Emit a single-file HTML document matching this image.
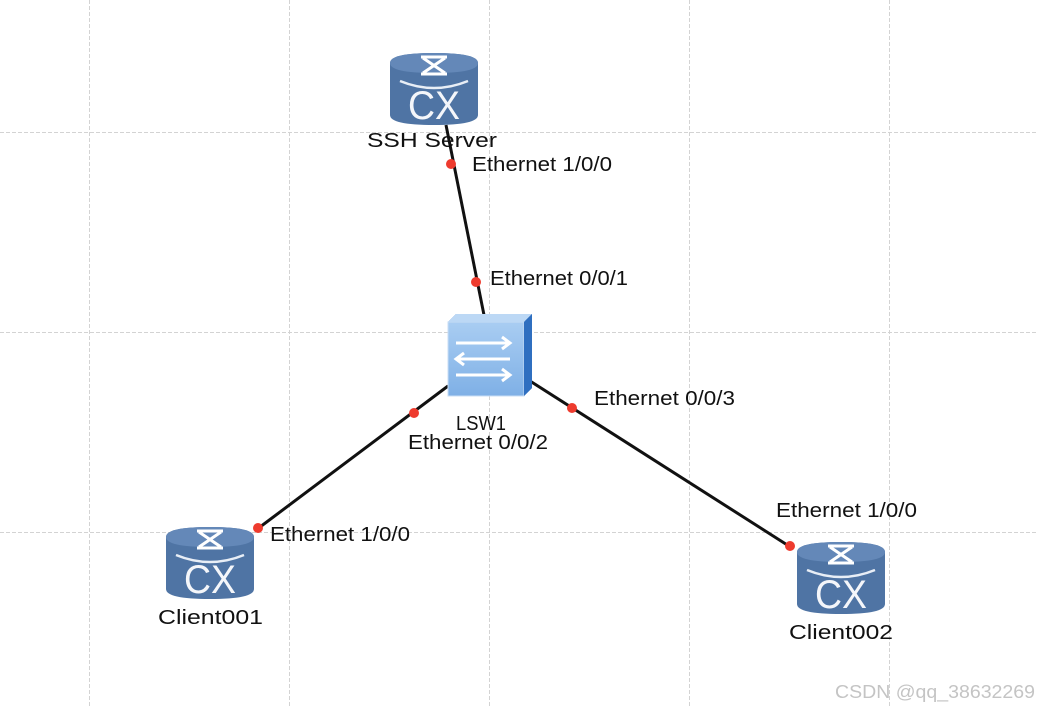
<!DOCTYPE html>
<html><head><meta charset="utf-8"><style>
html,body{margin:0;padding:0;background:#fff;}
svg{display:block;font-family:"Liberation Sans",Arial,sans-serif;}
</style></head><body>
<svg width="1038" height="708" viewBox="0 0 1038 708" xmlns="http://www.w3.org/2000/svg">
<defs>
<g id="rt">
  <path d="M0,10 Q0,0 44,0 Q88,0 88,10 L88,62 Q88,72 44,72 Q0,72 0,62 Z" fill="#4f74a4"/>
  <path d="M0,10 Q0,0 44,0 Q88,0 88,10 Q88,20 44,20 Q0,20 0,10 Z" fill="#6488b8"/>
  <path d="M10,28 Q44,42 78,28" stroke="#e8eef6" stroke-width="2.5" fill="none"/>
  <path d="M31,4 L57,4 M31,21 L57,21 M33,5 L55,20 M55,5 L33,20" stroke="#fff" stroke-width="3" fill="none"/>
  <text x="18" y="66" textLength="52" lengthAdjust="spacingAndGlyphs" font-size="40" fill="#f4f6fa">CX</text>
</g>
<linearGradient id="sw" x1="0" y1="0" x2="0" y2="1">
  <stop offset="0" stop-color="#a9cdf2"/><stop offset="1" stop-color="#7fb0e6"/>
</linearGradient>
</defs>
<g stroke="#d3d3d3" stroke-width="1" stroke-dasharray="4,2">
  <line x1="89.5" y1="0" x2="89.5" y2="708"/>
  <line x1="289.5" y1="0" x2="289.5" y2="708"/>
  <line x1="489.5" y1="0" x2="489.5" y2="708"/>
  <line x1="689.5" y1="0" x2="689.5" y2="708"/>
  <line x1="889.5" y1="0" x2="889.5" y2="708"/>
  <line x1="0" y1="132.5" x2="1038" y2="132.5"/>
  <line x1="0" y1="332.5" x2="1038" y2="332.5"/>
  <line x1="0" y1="532.5" x2="1038" y2="532.5"/>
</g>
<g stroke="#111" stroke-width="3">
  <line x1="446" y1="125" x2="485" y2="320"/>
  <line x1="448" y1="386" x2="256" y2="530"/>
  <line x1="530" y1="381" x2="792" y2="548"/>
</g>
<use href="#rt" x="390" y="53"/>
<use href="#rt" x="166" y="527"/>
<use href="#rt" x="797" y="542"/>
<g>
  <path d="M448,322 L456,314 L532,314 L532,388 L524,396 L448,396 Z" fill="#3c7ac9"/>
  <rect x="448" y="322" width="76" height="74" fill="url(#sw)" stroke="#c8ddf4" stroke-width="1"/>
  <path d="M448,322 L456,314 L532,314 L524,322 Z" fill="#bcd8f5"/>
  <path d="M524,322 L532,314 L532,388 L524,396 Z" fill="#2f6fc0"/>
  <g stroke="#fff" stroke-width="3" fill="none">
    <path d="M456,343 L510,343 M502,337 L510,343 L502,349"/>
    <path d="M510,359 L456,359 M464,353 L456,359 L464,365"/>
    <path d="M456,375 L510,375 M502,369 L510,375 L502,381"/>
  </g>
</g>
<g fill="#ee3b2e">
  <circle cx="451" cy="164" r="5"/>
  <circle cx="476" cy="282" r="5"/>
  <circle cx="414" cy="413" r="5"/>
  <circle cx="572" cy="408" r="5"/>
  <circle cx="258" cy="528" r="5"/>
  <circle cx="790" cy="546" r="5"/>
</g>
<g font-size="20" fill="#111">
  <text x="367" y="147" textLength="130" lengthAdjust="spacingAndGlyphs">SSH Server</text>
  <text x="472" y="171" textLength="140" lengthAdjust="spacingAndGlyphs">Ethernet 1/0/0</text>
  <text x="490" y="285" textLength="138" lengthAdjust="spacingAndGlyphs">Ethernet 0/0/1</text>
  <text x="594" y="405" textLength="141" lengthAdjust="spacingAndGlyphs">Ethernet 0/0/3</text>
  <text x="456" y="430" textLength="50" lengthAdjust="spacingAndGlyphs">LSW1</text>
  <text x="408" y="449" textLength="140" lengthAdjust="spacingAndGlyphs">Ethernet 0/0/2</text>
  <text x="270" y="541" textLength="140" lengthAdjust="spacingAndGlyphs">Ethernet 1/0/0</text>
  <text x="776" y="517" textLength="141" lengthAdjust="spacingAndGlyphs">Ethernet 1/0/0</text>
  <text x="158" y="624" textLength="105" lengthAdjust="spacingAndGlyphs">Client001</text>
  <text x="789" y="639" textLength="104" lengthAdjust="spacingAndGlyphs">Client002</text>
</g>
<text x="835" y="698" font-size="18" fill="#c4c4c4" textLength="200" lengthAdjust="spacingAndGlyphs">CSDN @qq_38632269</text>
</svg>
</body></html>
